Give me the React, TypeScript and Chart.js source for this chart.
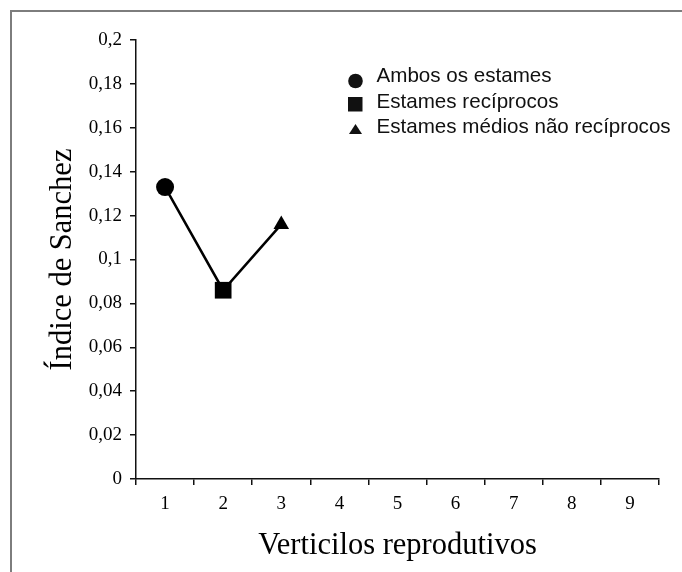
import React, { useEffect, useRef } from 'react';
import { Chart, registerables } from 'chart.js';

Chart.register(...registerables);

const categories = ['1', '2', '3', '4', '5', '6', '7', '8', '9'];
const sanchezIndex = [0.133, 0.086, 0.116];
const pointShapes = ['circle', 'rect', 'triangle'];
const pointSizes = [9, 11.8, 9];
const legendLabels = ['Ambos os estames', 'Estames recíprocos', 'Estames médios não recíprocos'];
const yTitle = 'Índice de Sanchez';
const xTitle = 'Verticilos reprodutivos';

const SERIF = '"Liberation Serif", "Times New Roman", serif';

const cornerLegend = {
  id: 'cornerLegend',
  afterDraw(chart: any) {
    const { ctx, chartArea } = chart;
    const mx = chartArea.left + 219.5;
    const tx = chartArea.left + 240.5;
    const baseY = chartArea.top + 42;
    ctx.save();
    ctx.fillStyle = '#111';
    ctx.font = '20.6px "Liberation Sans", Arial, sans-serif';
    ctx.textBaseline = 'alphabetic';
    ctx.textAlign = 'left';
    legendLabels.forEach((label, i) => {
      const by = baseY + i * 25.5;
      const shape = pointShapes[i];
      ctx.beginPath();
      if (shape === 'circle') {
        ctx.arc(mx, by - 1, 7.3, 0, Math.PI * 2);
      } else if (shape === 'rect') {
        ctx.rect(mx - 7.5, by - 10.5, 14.5, 14.5);
      } else {
        ctx.moveTo(mx, by - 9);
        ctx.lineTo(mx + 6.5, by + 1);
        ctx.lineTo(mx - 6.5, by + 1);
        ctx.closePath();
      }
      ctx.fill();
      ctx.fillText(label, tx, by);
    });
    ctx.restore();
  },
};

export default function App() {
  const canvasRef = useRef<HTMLCanvasElement | null>(null);

  useEffect(() => {
    if (!canvasRef.current) return;
    const axisColor = '#111';
    const chart = new Chart(canvasRef.current, {
      type: 'line',
      data: {
        labels: categories,
        datasets: [
          {
            data: sanchezIndex,
            borderColor: '#000',
            backgroundColor: '#000',
            borderWidth: 2.5,
            pointStyle: pointShapes as any,
            pointRadius: pointSizes,
            pointBackgroundColor: '#000',
            pointBorderColor: '#000',
            pointBorderWidth: 0,
            tension: 0,
          },
        ],
      },
      options: {
        animation: false,
        responsive: false,
        layout: { padding: { top: 40, right: 23, left: 0, bottom: 0 } },
        plugins: {
          legend: { display: false },
          tooltip: { enabled: false },
        },
        scales: {
          x: {
            type: 'category',
            offset: true,
            grid: {
              offset: true,
              drawOnChartArea: false,
              drawTicks: true,
              tickLength: 6,
              color: axisColor,
              lineWidth: 1.5,
            },
            border: { display: true, color: axisColor, width: 1.5 },
            ticks: {
              color: '#000',
              font: { family: SERIF, size: 19 },
              padding: 8,
              maxRotation: 0,
            },
            title: {
              display: true,
              text: xTitle,
              color: '#000',
              font: { family: SERIF, size: 30.5 },
              padding: { top: 0, bottom: 8 },
            },
            afterFit(s: any) {
              s.height = 93;
            },
          },
          y: {
            min: 0,
            max: 0.2,
            grid: {
              drawOnChartArea: false,
              drawTicks: true,
              tickLength: 6,
              color: axisColor,
              lineWidth: 1.5,
            },
            border: { display: true, color: axisColor, width: 1.5 },
            ticks: {
              stepSize: 0.02,
              color: '#000',
              font: { family: SERIF, size: 19 },
              padding: 8,
              callback: (v: any) => Number(Number(v).toFixed(2)).toString().replace('.', ','),
            },
            title: {
              display: true,
              text: yTitle,
              color: '#000',
              font: { family: SERIF, size: 30.5 },
              padding: { top: 45, bottom: 0 },
            },
            afterFit(s: any) {
              s.width = 136;
            },
          },
        },
      },
      plugins: [cornerLegend],
    });
    return () => chart.destroy();
  }, []);

  return (
    <>
      <div
        style={{
          position: 'absolute',
          left: 10,
          top: 10,
          width: 672,
          height: 562,
          boxSizing: 'border-box',
          borderTop: '2px solid #7d7d7d',
          borderLeft: '2px solid #7d7d7d',
        }}
      />
      <canvas
        ref={canvasRef}
        width={682}
        height={572}
        style={{ position: 'absolute', left: 0, top: 0, width: 682, height: 572, display: 'block' }}
      />
    </>
  );
}
